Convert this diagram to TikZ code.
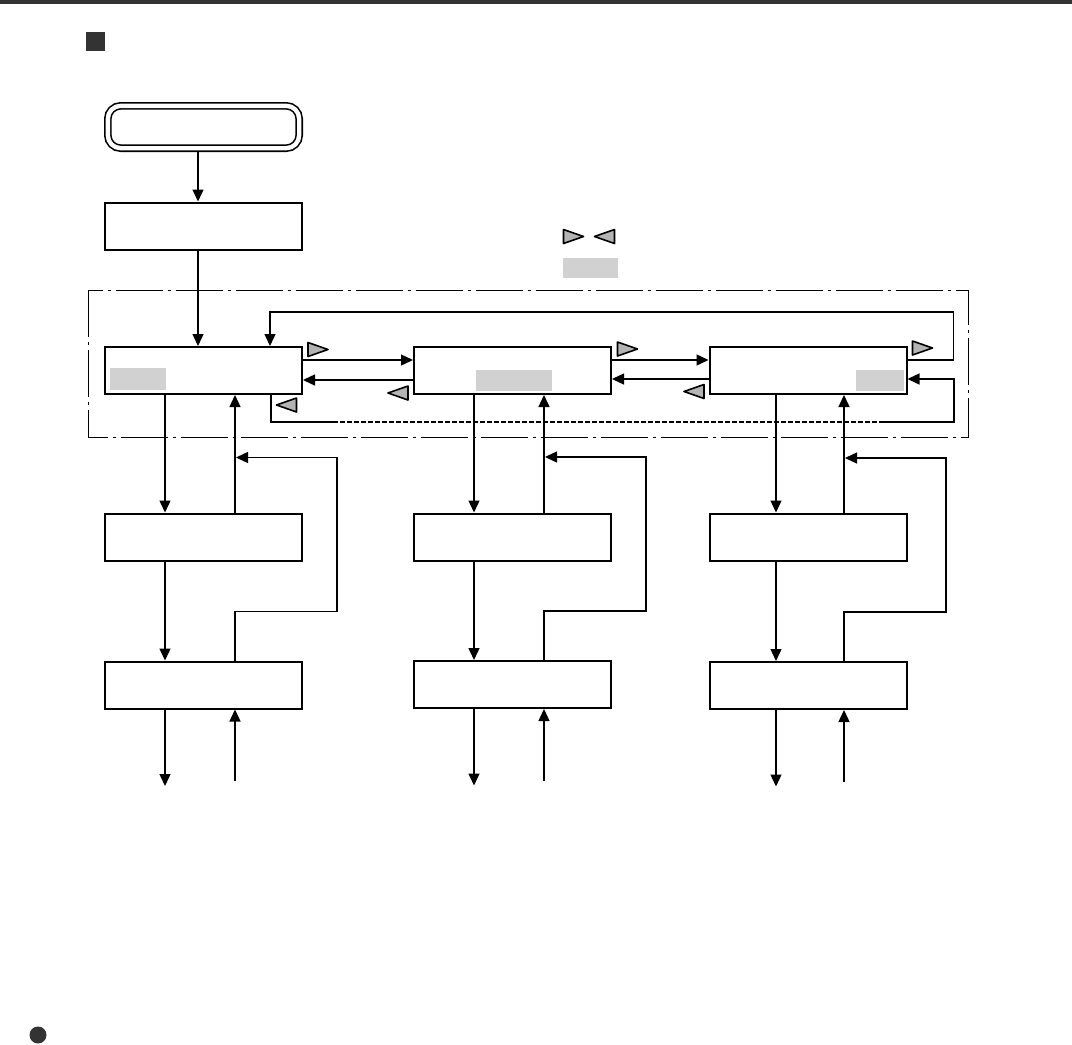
\documentclass[tikz,border=0pt]{standalone}
\usetikzlibrary{arrows.meta}
\definecolor{dk}{RGB}{51,51,51}
\definecolor{trigray}{RGB}{180,180,180}
\definecolor{lgray}{RGB}{209,209,209}
\newcommand\rtri[1]{\draw[tri] (#1) ++(-10,-7) -- ++(0,14) -- ++(20,-7) -- cycle;}
\newcommand\ltri[1]{\draw[tri] (#1) ++(10,-7) -- ++(0,14) -- ++(-20,-7) -- cycle;}
\begin{document}
\begin{tikzpicture}[x=0.5pt,y=-0.5pt,
  box/.style={draw,line width=1pt,minimum height=23.5pt,minimum width=98.5pt,inner sep=0pt},
  arr/.style={line width=0.7pt,-{Triangle[length=6pt,width=5.5pt]}},
  ln/.style={line width=0.7pt},
  tri/.style={draw,line width=0.8pt,fill=trigray,line join=round},
  frame/.style={line width=0.5pt,dash pattern=on 23.5pt off 2.5pt on 1.5pt off 2.5pt},
  dsh/.style={line width=0.7pt,dash pattern=on 2.25pt off 1.25pt}]
\useasboundingbox (0,0) rectangle (1072,1045);
\fill[white] (0,0) rectangle (1072,1045);
% header
\fill[dk] (0,0) rectangle (1072,3.5);
\fill[dk] (86,32) rectangle (105,51);
\fill[dk] (38,1035) circle[radius=4.25pt];
% frame
\draw[frame] (88,290) rectangle (968,437.5);
% nodes
\node[draw,line width=0.8pt,double,double distance=2.2pt,rounded corners=6.5pt,
      minimum width=95.7pt,minimum height=21.2pt,inner sep=0pt,outer sep=1.9pt] (start) at (203.5,127) {};
\node[box] (init) at (203,226) {};
\node[box] (A) at (203.5,370.5) {};
\node[box] (B) at (512.5,370.5) {};
\node[box] (C) at (808,370.5) {};
\node[box] (D1) at (203.5,537) {};
\node[box] (D2) at (512.5,537) {};
\node[box] (D3) at (808,537) {};
\node[box] (E1) at (203.5,685) {};
\node[box] (E2) at (512.5,684.5) {};
\node[box] (E3) at (808,685.5) {};
% gray label areas
\fill[lgray] (110,368) rectangle (166,390);
\fill[lgray] (476,370) rectangle (552,391);
\fill[lgray] (856,370) rectangle (904,391);
\fill[lgray] (563,258) rectangle (618,278);
% triangles
\rtri{573.5,236.5}
\ltri{604.5,236.5}
\rtri{318,349.5}
\rtri{627.5,349}
\rtri{922.5,348}
\ltri{398,393}
\ltri{694,391.5}
\ltri{286.5,405}
% connectors
\draw[arr] ([xshift=-2.75pt]start.south) -- ([xshift=-2.5pt]init.north);
\draw[arr] ([xshift=-2.5pt]init.south) -- ([xshift=-2.75pt]A.north);
\draw[arr] ([yshift=5.25pt]A.east) -- ([yshift=5.25pt]B.west);
\draw[arr] ([yshift=-4.75pt]B.west) -- ([yshift=-4.75pt]A.east);
\draw[arr] ([yshift=5.25pt]B.east) -- ([yshift=5.25pt]C.west);
\draw[arr] ([yshift=-4.25pt]C.west) -- ([yshift=-4.25pt]B.east);
\draw[arr] ([yshift=5.25pt]C.east) -- ++(46,0) -- ++(0,-48) -| ([xshift=33.25pt]A.north);
\coordinate (lp1) at (333,422);
\coordinate (lp2) at (883,422);
\draw[ln] ([xshift=33.75pt]A.south) |- (lp1);
\draw[dsh] (lp1) -- (lp2);
\draw[arr] (lp2) -- ++(71,0) |- ([yshift=-4.25pt]C.east);
\foreach \X/\D/\E/\dn/\up/\k in {A/D1/E1/-19.25pt/15.75pt/1, B/D2/E2/-19.25pt/15.75pt/2, C/D3/E3/-16pt/18pt/3} {
  \draw[arr] ([xshift=\dn]\X.south) -- ([xshift=\dn]\D.north);
  \draw[arr] ([xshift=\up]\D.north) -- ([xshift=\up]\X.south);
  \draw[arr] ([xshift=\dn]\D.south) -- ([xshift=\dn]\E.north);
  \draw[arr] ([xshift=\up]\E.north) -- ++(0,-49) -- ++(102,0) -- ++(0,-154) -- ++(-101,0);
  \coordinate (o\k) at ([xshift=\dn,yshift=-38.25pt]\E.south);
  \coordinate (i\k) at ([xshift=\up,yshift=-35.75pt]\E.south);
  \draw[arr] ([xshift=\dn]\E.south) -- (o\k);
  \draw[arr] (i\k) -- ([xshift=\up]\E.south);
}
\end{tikzpicture}
\end{document}
